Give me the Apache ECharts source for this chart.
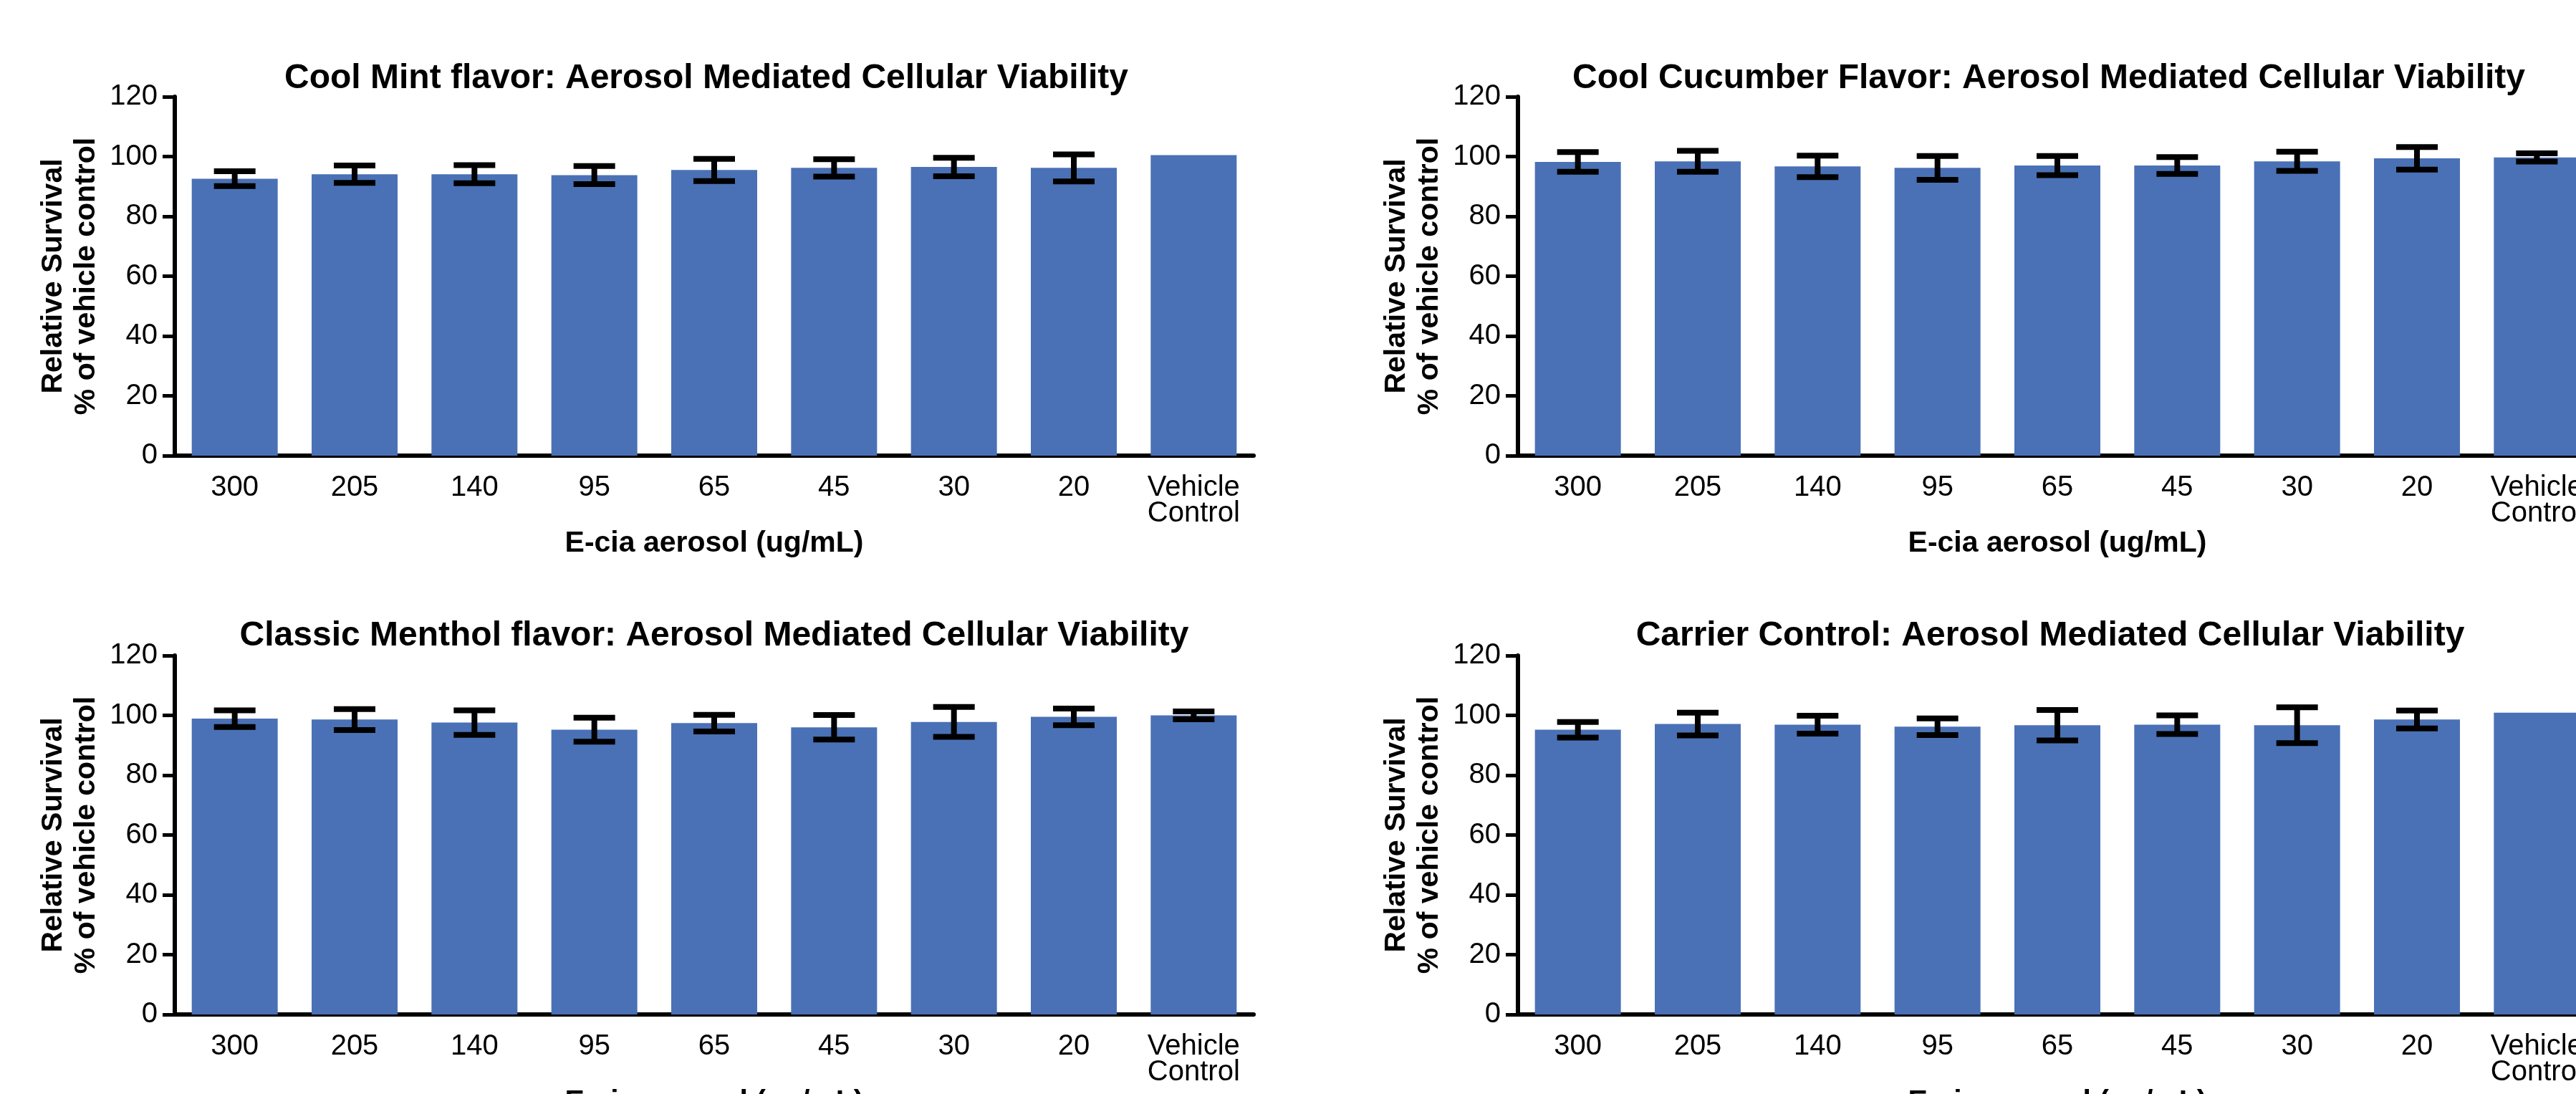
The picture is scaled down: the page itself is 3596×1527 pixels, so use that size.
<!DOCTYPE html>
<html>
<head>
<meta charset="utf-8">
<script src="https://cdn.jsdelivr.net/npm/echarts@6/dist/echarts.min.js"></script>
<style>
  html, body { margin: 0; padding: 0; background: #fff; }
  #main { width: 3596px; height: 1527px; }
</style>
</head>
<body>
<div id="main"></div>
<script>
// categories on the x axis (E-cia aerosol concentration)
var categories = ['300', '205', '140', '95', '65', '45', '30', '20', 'Vehicle\nControl']
var yTicks = [0, 20, 40, 60, 80, 100, 120]

// relative survival (% of vehicle control)
var mintMean = [92.6, 94.1, 94.1, 93.8, 95.5, 96.2, 96.5, 96.2, 100.5]
var mintErr = [2.5, 2.9, 3.0, 3.0, 3.7, 2.9, 3.1, 4.5, null]
var cucumberMean = [98.2, 98.4, 96.7, 96.2, 97.0, 97.0, 98.4, 99.4, 99.7]
var cucumberErr = [3.3, 3.5, 3.6, 4.0, 3.2, 2.8, 3.2, 3.8, 1.4]
var mentholMean = [98.9, 98.6, 97.6, 95.2, 97.4, 96.0, 97.8, 99.5, 100.0]
var mentholErr = [2.8, 3.5, 4.1, 4.0, 2.8, 4.1, 5.0, 2.8, 1.3]
var carrierMean = [95.2, 97.1, 96.9, 96.2, 96.7, 96.9, 96.7, 98.6, 100.9]
var carrierErr = [2.6, 3.8, 3.0, 2.8, 5.1, 3.1, 6.0, 3.0, null]

var titles = [
  'Cool Mint flavor: Aerosol Mediated Cellular Viability',
  'Cool Cucumber Flavor: Aerosol Mediated Cellular Viability',
  'Classic Menthol flavor: Aerosol Mediated Cellular Viability',
  'Carrier Control: Aerosol Mediated Cellular Viability'
]
var means = [mintMean, cucumberMean, mentholMean, carrierMean]
var errs = [mintErr, cucumberErr, mentholErr, carrierErr]

var FONT = 'Liberation Sans, Arial, Helvetica, sans-serif'
var BAR = '#4A71B6'

// panel layout: [grid left, grid top, title x, title y]
var panels = [
  [244, 135, 986, 110],
  [2119, 135, 2860, 110],
  [244, 915, 997, 888],
  [2119, 915, 2862, 888]
]
var GRID_W = 1506
var GRID_H = 501

// error bar: stem + two caps
function errorItem(params, api) {
  var x = api.value(0)
  var y = api.value(1)
  var e = api.value(2)
  var hi = api.coord([x, y + e])
  var lo = api.coord([x, y - e])
  var half = 29
  var style = { stroke: '#000', lineWidth: 8 }
  return {
    type: 'group',
    children: [
      { type: 'line', shape: { x1: hi[0], y1: hi[1], x2: lo[0], y2: lo[1] }, style: style },
      { type: 'line', shape: { x1: hi[0] - half, y1: hi[1], x2: hi[0] + half, y2: hi[1] }, style: style },
      { type: 'line', shape: { x1: lo[0] - half, y1: lo[1], x2: lo[0] + half, y2: lo[1] }, style: style }
    ]
  }
}

var option = {
  backgroundColor: '#fff',
  animation: false,
  title: [],
  grid: [],
  xAxis: [],
  yAxis: [],
  series: []
}

panels.forEach(function(p, i) {
  option.title.push({
    text: titles[i],
    left: p[2],
    top: p[3],
    padding: 0,
    textAlign: 'center',
    textVerticalAlign: 'middle',
    textStyle: { fontFamily: FONT, fontWeight: 'bold', fontSize: 48, color: '#000' }
  })
  // the right-hand panels run past the page edge, as in the source figure
  option.grid.push({
    left: p[0], top: p[1], width: GRID_W, height: GRID_H,
    containLabel: false,
    outerBoundsMode: 'none'
  })
  option.xAxis.push({
    type: 'category',
    gridIndex: i,
    data: categories,
    name: 'E-cia aerosol (ug/mL)',
    nameLocation: 'middle',
    nameGap: 80,
    nameTextStyle: { fontFamily: FONT, fontWeight: 'bold', fontSize: 41, color: '#000' },
    axisLine: { lineStyle: { color: '#000', width: 6 } },
    axisTick: { alignWithLabel: true, length: 16, lineStyle: { color: '#000', width: 5 } },
    axisLabel: { interval: 0, margin: 27, fontFamily: FONT, fontSize: 40, lineHeight: 36, color: '#000' },
    splitLine: { show: false }
  })
  option.yAxis.push({
    type: 'value',
    gridIndex: i,
    min: yTicks[0],
    max: yTicks[yTicks.length - 1],
    interval: yTicks[1] - yTicks[0],
    name: 'Relative Survival\n% of vehicle control',
    nameLocation: 'middle',
    nameRotate: 90,
    nameGap: 100,
    nameTextStyle: { fontFamily: FONT, fontWeight: 'bold', fontSize: 41, lineHeight: 46, color: '#000' },
    axisLine: { show: true, lineStyle: { color: '#000', width: 6 } },
    axisTick: { show: true, length: 17, lineStyle: { color: '#000', width: 5 } },
    axisLabel: { margin: 24, fontFamily: FONT, fontSize: 40, color: '#000' },
    splitLine: { show: false }
  })
  option.series.push({
    type: 'bar',
    xAxisIndex: i,
    yAxisIndex: i,
    barWidth: 120,
    itemStyle: { color: BAR },
    data: means[i],
    z: 2
  })
  var errData = []
  means[i].forEach(function(m, k) {
    if (errs[i][k] != null) errData.push([k, m, errs[i][k]])
  })
  option.series.push({
    type: 'custom',
    xAxisIndex: i,
    yAxisIndex: i,
    renderItem: errorItem,
    encode: { x: 0, y: 1 },
    data: errData,
    z: 5
  })
})

var myChart = echarts.init(document.getElementById('main'))
myChart.setOption(option)
</script>
</body>
</html>
